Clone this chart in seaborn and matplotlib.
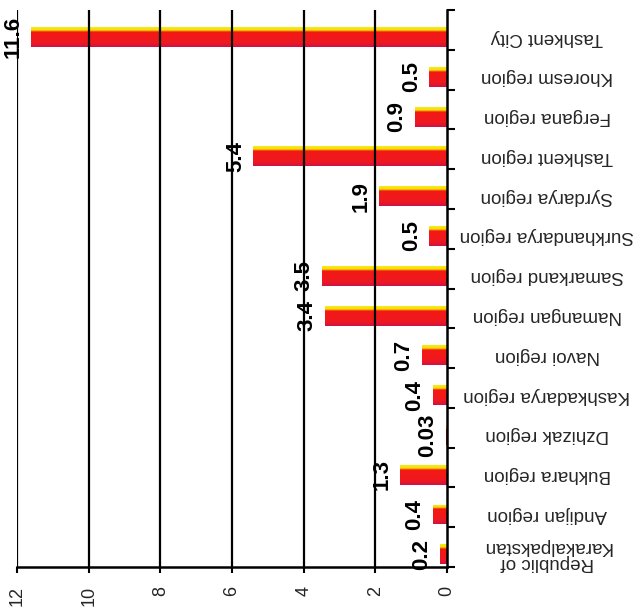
import numpy as np
import pandas as pd
import matplotlib
matplotlib.use("Agg")
import matplotlib.pyplot as plt
from matplotlib.colors import LinearSegmentedColormap
import seaborn as sns

# Regions, listed from the top row of the chart downwards
regions = [
    "Tashkent City",
    "Khoresm region",
    "Fergana region",
    "Tashkent region",
    "Syrdarya region",
    "Surkhandarya region",
    "Samarkand region",
    "Namangan region",
    "Navoi region",
    "Kashkadarya region",
    "Dzhizak region",
    "Bukhara region",
    "Andijan region",
    "Republic of\nKarakalpakstan",
]
values = [11.6, 0.5, 0.9, 5.4, 1.9, 0.5, 3.5, 3.4, 0.7, 0.4, 0.03, 1.3, 0.4, 0.2]
value_ticks = [0, 2, 4, 6, 8, 10, 12]

df = pd.DataFrame({"region": regions, "value": values})

sns.set_theme(style="white")
plt.rcParams["font.family"] = ["Liberation Sans", "DejaVu Sans"]

fig = plt.figure(figsize=(6.41, 6.12), dpi=100)
ax = fig.add_axes([17 / 641, 1 - 567 / 612, 430 / 641, 557 / 612])

sns.barplot(data=df, x="value", y="region", orient="h", width=0.5,
            color="#ee1c1c", linewidth=0, ax=ax, zorder=2)

# shaded fill for each bar: yellow rim on top, red body, crimson lower edge
shade = LinearSegmentedColormap.from_list(
    "bar_shade",
    [(0.0, "#f4ee10"), (0.15, "#f6dc08"), (0.24, "#f31a14"),
     (0.8, "#ef1820"), (1.0, "#cc1248")])
grad = shade(np.linspace(0, 1, 64))[:, None, :3]
for p in list(ax.patches):
    x0, w = p.get_x(), p.get_width()
    y0, h = p.get_y(), p.get_height()
    im = ax.imshow(grad, extent=(x0, x0 + w, y0 + h, y0), origin="upper",
                   aspect="auto", interpolation="bilinear", zorder=2.1)
    im.set_clip_path(p)
    p.set_alpha(0)

# reversed value axis: zero on the right, bars growing to the left
band_edges = np.arange(len(regions) + 1) - 0.68
ax.set_xlim(12, 0)
ax.set_ylim(band_edges[-1], band_edges[0])
ax.set_xticks(value_ticks)
ax.set_xticklabels([str(t) for t in value_ticks], rotation=90, fontsize=13)
ax.set_xlabel("")
ax.set_ylabel("")

# vertical reference lines drawn over the bars
for t in value_ticks[1:]:
    ax.axvline(t, color="black", lw=1.6, zorder=3)

ax.yaxis.tick_right()
ax.set_yticks(range(len(regions)))
ax.set_yticklabels(regions, rotation=180, fontsize=13.5,
                   ha="center", va="center", linespacing=0.95)
ax.set_yticks(band_edges, minor=True)
ax.tick_params(axis="y", which="major", length=0, pad=72)
ax.tick_params(axis="y", which="minor", right=True, left=False,
               direction="out", length=6, width=1.5, color="black")
ax.tick_params(axis="x", which="major", bottom=True, direction="out",
               length=4.5, width=1.5, color="black", pad=9)

for side in ("top", "left"):
    ax.spines[side].set_visible(False)
for side in ("right", "bottom"):
    ax.spines[side].set_visible(True)
    ax.spines[side].set_color("black")
    ax.spines[side].set_linewidth(1.8)
    ax.spines[side].set_zorder(4)

# value labels beside each bar end
for i, v in enumerate(values):
    ax.text(v + 0.5, i, f"{v:g}", rotation=90, ha="center", va="center",
            fontsize=16, fontweight="bold", color="black", zorder=5)

fig.savefig("out.png", dpi=100)
